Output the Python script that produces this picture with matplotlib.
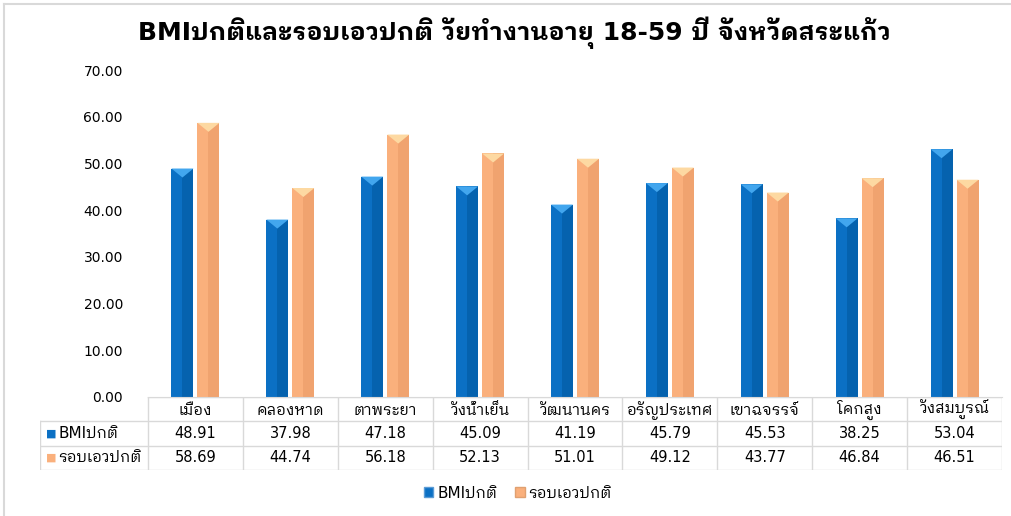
import matplotlib
matplotlib.use("Agg")
import matplotlib.pyplot as plt
from matplotlib import font_manager
from matplotlib.ft2font import FT2Font
from matplotlib.patches import Patch, Polygon
from matplotlib.lines import Line2D

# Data

districts = ["เมือง", "คลองหาด", "ตาพระยา", "วังน้ำเย็น", "วัฒนานคร",
             "อรัญประเทศ", "เขาฉจรรจ์", "โคกสูง", "วังสมบูรณ์"]
bmi_normal = [48.91, 37.98, 47.18, 45.09, 41.19, 45.79, 45.53, 38.25, 53.04]
waist_normal = [58.69, 44.74, 56.18, 52.13, 51.01, 49.12, 43.77, 46.84, 46.51]
series_names = ["BMIปกติ", "รอบเอวปกติ"]
title = "BMIปกติและรอบเอวปกติ วัยทำงานอายุ 18-59 ปี จังหวัดสระแก้ว"
yticks = [0, 10, 20, 30, 40, 50, 60, 70]

# Fonts - look for something that has Thai glyphs (looped style is closer to Tahoma)

def thai_family():
    found = []
    for f in font_manager.fontManager.ttflist:
        try:
            if 0x0E01 in FT2Font(f.fname).get_charmap():
                found.append(f.name)
        except Exception:
            pass
    found.sort(key = lambda n: (0 if "Looped" in n else 1 if "Thai" in n else 2, n))
    return found[0] if found else None

thai = thai_family()
fams = ["DejaVu Sans"] + ([thai] if thai else [])
plt.rcParams["font.family"] = fams

# Colours

blue, blue_dark, blue_top = "#0B70C4", "#0562AE", "#42A6EE"
orange, orange_dark, orange_top = "#FAB07C", "#F0A36F", "#FDD9A2"
grid_gray = "#D9D9D9"

W, H = 1011, 516
fig = plt.figure(figsize = (W/100, H/100), dpi = 100)

left_px, right_px, top_px, bottom_px = 148, 1002, 70, 397
ax = fig.add_axes([left_px/W, 1 - bottom_px/H, (right_px - left_px)/W, (bottom_px - top_px)/H])

n = len(districts)
x = list(range(n))
bw = 0.232
off = 0.137
px_per_unit_y = (bottom_px - top_px)/70
cap = 9/px_per_unit_y

for vals, sgn, c, cd, ct in [(bmi_normal, -1, blue, blue_dark, blue_top),
                              (waist_normal, 1, orange, orange_dark, orange_top)]:
    xs = [xi + sgn*off for xi in x]
    ax.bar(xs, vals, width = bw, color = c, edgecolor = "none", zorder = 2)
    ax.bar([xi + bw/4 for xi in xs], vals, width = bw/2, color = cd, edgecolor = "none", zorder = 2)
    for xc, v in zip(xs, vals):
        ax.add_patch(Polygon([(xc - bw/2, v), (xc + bw/2, v), (xc, v - cap)],
                             closed = True, color = ct, zorder = 3, lw = 0))

ax.set_xlim(-0.5, n - 0.5)
ax.set_ylim(0, 70)
ax.set_yticks(yticks)
ax.set_yticklabels([f"{t:.2f}" for t in yticks], fontsize = 10)
ax.tick_params(axis = "y", length = 0, pad = 18)
ax.set_xticks([])
for s in ["top", "right", "left"]:
    ax.spines[s].set_visible(False)
ax.spines["bottom"].set_color(grid_gray)

fig.suptitle(title, x = 514/W, y = 1 - 33/H, fontsize = 18, fontweight = "bold", va = "center")

# Data table under the axis

tab_left = 40
tab_bottom = 470
tab = fig.add_axes([tab_left/W, 1 - tab_bottom/H, (right_px - tab_left)/W, (tab_bottom - bottom_px)/H])
unit_px = (right_px - left_px)/n
x0 = -0.5 - (left_px - tab_left)/unit_px
tab.set_xlim(x0, n - 0.5)
tab.set_ylim(3, 0)
tab.axis("off")

tab.plot([-0.5, n - 0.5], [0, 0], color = grid_gray, lw = 1)
for r in [1, 2, 3]:
    tab.plot([x0, n - 0.5], [r, r], color = grid_gray, lw = 1)
tab.plot([x0, x0], [1, 3], color = grid_gray, lw = 1)
for k in range(n + 1):
    tab.plot([k - 0.5, k - 0.5], [0, 3], color = grid_gray, lw = 1)

for i, d in enumerate(districts):
    tab.text(i, 0.55, d, ha = "center", va = "center", fontsize = 11)
    tab.text(i, 1.5, f"{bmi_normal[i]:.2f}", ha = "center", va = "center", fontsize = 10.5)
    tab.text(i, 2.5, f"{waist_normal[i]:.2f}", ha = "center", va = "center", fontsize = 10.5)

for r, (name, c) in enumerate(zip(series_names, [blue, orange])):
    tab.text(x0 + 0.06, r + 1.5, "■", color = c, ha = "left", va = "center", fontsize = 8)
    tab.text(x0 + 0.19, r + 1.5, name, ha = "left", va = "center", fontsize = 11)

# Legend

handles = [Patch(facecolor = blue, edgecolor = "#5B9BD5"), Patch(facecolor = orange, edgecolor = "#E0A070")]
fig.legend(handles, series_names, loc = "center", bbox_to_anchor = (518/W, 1 - 493/H), ncol = 2,
           frameon = False, fontsize = 11, handlelength = 0.6, handleheight = 0.6,
           handletextpad = 0.25, columnspacing = 1.2)

# Chart border

fig.add_artist(Line2D([4/W, 1], [1 - 4/H, 1 - 4/H], color = grid_gray, lw = 1.5))
fig.add_artist(Line2D([4/W, 4/W], [0, 1 - 4/H], color = grid_gray, lw = 1.5))

fig.savefig("out.png", dpi = 100)
